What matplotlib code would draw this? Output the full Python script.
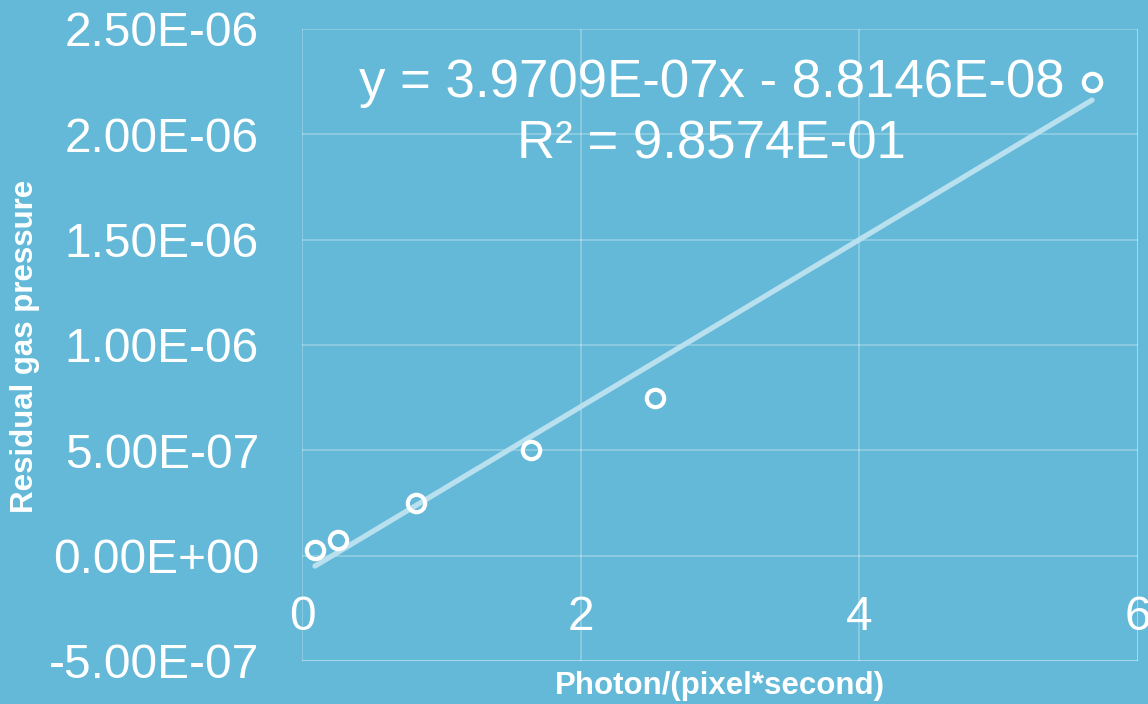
import numpy as np
import matplotlib
matplotlib.use("Agg")
import matplotlib.pyplot as plt

x_vals = [0.093, 0.26, 0.82, 1.64, 2.53, 5.67]
y_vals = [2.5e-8, 7.5e-8, 2.5e-7, 5.0e-7, 7.5e-7, 2.25e-6]
x_ticks = [0, 2, 4, 6]
y_ticks = [-5e-7, 0, 5e-7, 1e-6, 1.5e-6, 2e-6, 2.5e-6]
y_tick_labels = ["-5.00E-07", "0.00E+00", "5.00E-07", "1.00E-06", "1.50E-06", "2.00E-06", "2.50E-06"]
eq_text = "y = 3.9709E-07x - 8.8146E-08\nR² = 9.8574E-01"

plt.rcParams['font.family'] = ['Liberation Sans', 'DejaVu Sans']
bg = '#63B9D7'
fig = plt.figure(figsize=(11.48, 7.04), dpi=100, facecolor=bg)
ax = fig.add_axes([302/1148, 1-661/704, (1138-302)/1148, (661-29)/704])
ax.set_facecolor(bg)

slope, intercept = np.polyfit(x_vals, y_vals, 1)
xl = np.array([min(x_vals), max(x_vals)])
ax.plot(xl, slope*xl + intercept, color='#B8E0EE', lw=3.8, solid_capstyle='round', zorder=2)
ax.plot(x_vals, y_vals, 'o', ms=12.5, mfc='none', mec='white', mew=3.0, zorder=3)

ax.set_xlim(0, 6)
ax.set_ylim(-5e-7, 2.5e-6)
ax.set_xticks(x_ticks)
ax.set_yticks(y_ticks)
ax.set_yticklabels(y_tick_labels)
ax.grid(True, color='white', alpha=0.3, lw=1.2)
for s in ax.spines.values():
    s.set_visible(False)
ax.spines['bottom'].set_position(('data', 0))
ax.tick_params(axis='both', length=0, colors='white', labelsize=34.5)
ax.tick_params(axis='x', pad=28)
ax.tick_params(axis='y', pad=31)

ax.axhline(-5e-7, color='white', alpha=0.3, lw=1.2)
ax.axvline(6, color='white', alpha=0.3, lw=1.2)

ax.text(0.49, 0.866, eq_text, transform=ax.transAxes, ha='center', va='center',
        fontsize=38, color='white', linespacing=1.28, zorder=4)

fig.text(720/1148, 1-686/704, "Photon/(pixel*second)", ha='center', va='center',
         fontsize=22.5, fontweight='bold', color='white')
fig.text(25/1148, 1-346/704, "Residual gas pressure", ha='center', va='center',
         rotation=90, fontsize=22.5, fontweight='bold', color='white')

fig.savefig("out.png", dpi=100, facecolor=bg)
